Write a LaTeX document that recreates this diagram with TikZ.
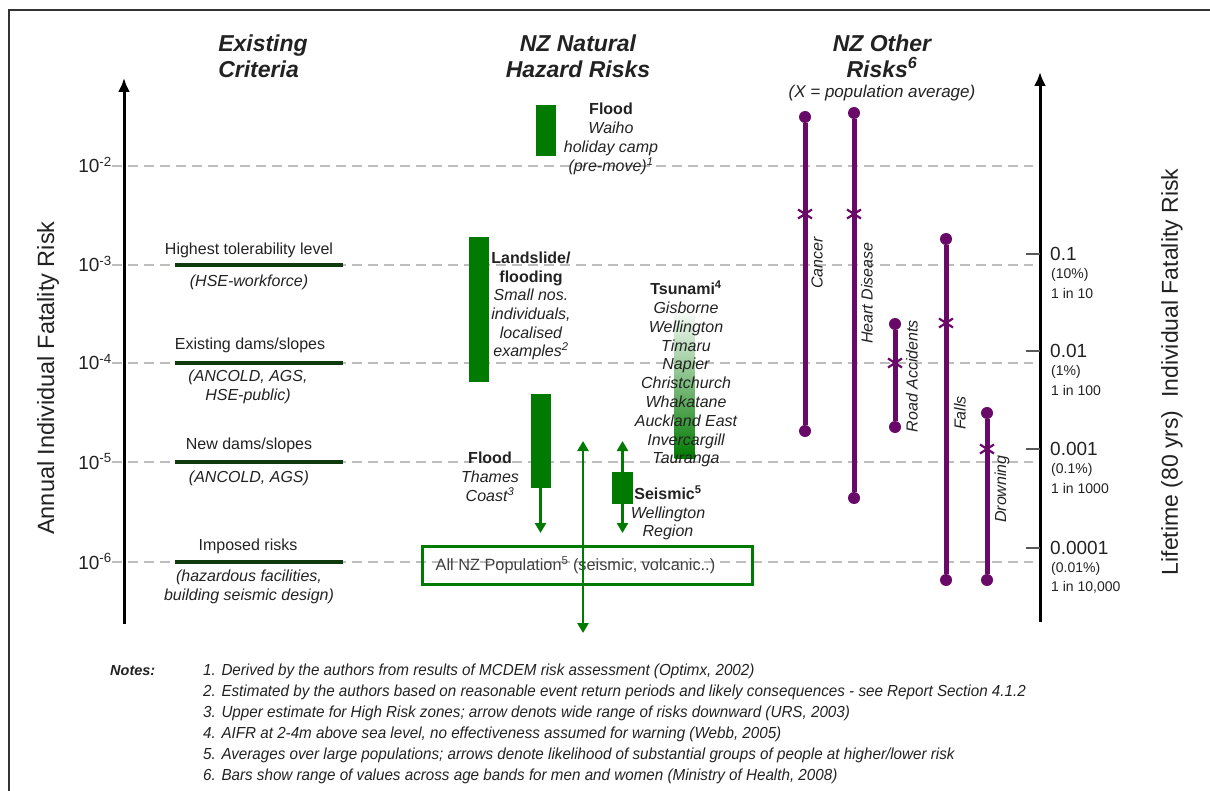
\documentclass[tikz,border=0pt]{standalone}
\usepackage{fontspec}
\setmainfont{Liberation Sans}
\newfontfamily\notefont[FakeStretch=0.95]{Liberation Sans}
\usetikzlibrary{positioning,arrows.meta,calc}
\definecolor{cgreen}{HTML}{007A00}
\definecolor{cdark}{HTML}{0E3A0E}
\definecolor{cpurple}{HTML}{690A69}
\definecolor{cgrid}{HTML}{BDBDBD}
\definecolor{ctext}{HTML}{222222}
\newcommand{\fsz}[2]{\fontsize{#1}{#2}\selectfont}

\begin{document}
\begin{tikzpicture}[x=1pt, y=-1pt,
  every node/.style={text=ctext, inner sep=0pt, align=center},
  heading/.style={font=\fsz{23}{26}\bfseries\itshape},
  levelline/.style={draw=cgrid, line width=2.5pt, dash pattern=on 10pt off 6pt},
  mainaxis/.style={line width=3pt, -{Latex[length=14pt,width=12pt]}},
  ticklab/.style={font=\fsz{19}{22}, anchor=base east},
  crit/.style={font=\fsz{16}{18}},
  critsub/.style={font=\fsz{16}{18.5}\itshape},
  critbar/.style={draw=cdark, line width=4pt},
  gbar/.style={fill=cgreen, minimum width=20pt},
  glabel/.style={font=\fsz{16}{18.8}\itshape},
  garrow/.style={draw=cgreen, line width=2.5pt, -{Triangle[length=10pt,width=11pt]}},
  garrows/.style={draw=cgreen, line width=2.5pt, {Triangle[length=10pt,width=11pt]}-{Triangle[length=10pt,width=11pt]}},
  pbar/.style={draw=cpurple, line width=5pt},
  pcross/.style={draw=cpurple, line width=2.2pt},
  pdot/.style={circle, fill=cpurple, minimum size=12pt},
  plabel/.style={font=\fsz{16}{18}\itshape, rotate=90},
  rticklab/.style={font=\fsz{19}{22}, anchor=west},
  rsub/.style={font=\fsz{14}{16}, anchor=west},
  note/.style={font=\notefont\fsz{16}{18}\itshape, anchor=west}]

\useasboundingbox (0,0) rectangle (1210,791);
% frame
\draw[draw=black!80, line width=2.5pt] (9,791) -- (9,10) -- (1210,10);

% risk levels
\foreach \e/\y in {2/166,3/265,4/363,5/462,6/562}{
  \draw[levelline] (112,\y) -- (1033,\y);
  \node[ticklab] (t\e) at (112,\y+7) {10\textsuperscript{-\e}};
}

% axes
\coordinate (lbot) at (124,624);
\coordinate (ltop) at (124,78);
\draw[mainaxis] (lbot) -- (ltop);
\coordinate (rbot) at (1040,622);
\coordinate (rtop) at (1040,72);
\draw[mainaxis] (rbot) -- (rtop);
\node[font=\fsz{23.5}{26}, rotate=90] (ylab) at (48,378) {Annual Individual Fatality Risk};
\node[font=\fsz{23}{26}, rotate=90] (rlab) at (1172,372) {Lifetime (80 yrs)\ \ Individual Fatality Risk};

% lifetime ticks
\foreach \v/\p/\o/\y [count=\i] in {0.1/10\%/10/254, 0.01/1\%/100/351, 0.001/0.1\%/1000/449, 0.0001/0.01\%/{10,000}/548}{
  \draw[draw=black!65, line width=2.5pt] (1026,\y) -- (1040,\y);
  \node[rticklab] (r\i) at (1050,\y) {\v};
  \node[rsub] (rp\i) at (1051,\y+21) {(\p)};
  \node[rsub] (ro\i) at (1051,\y+39) {1 in \o};
}

% headings
\node[heading, align=left] (hexist) at (263,56) {Existing\\Criteria};
\node[heading] (hnat) at (578,56) {NZ Natural\\Hazard Risks};
\node[heading] (hother) at (882,56) {NZ Other\\Risks\textsuperscript{6}};
\node[font=\fsz{17}{20}\itshape] (xavg) at (882,93) {(X = population average)};

% existing criteria
\draw[critbar] (175,265) -- (343,265);
\node[crit] (hi) at (249,250) {Highest tolerability level};
\node[critsub] (hisub) at (249,282) {(HSE-workforce)};
\draw[critbar] (175,363) -- (343,363);
\node[crit] (ex) at (250,345) {Existing dams/slopes};
\node[critsub] (exsub) at (248,387) {(ANCOLD, AGS,\\HSE-public)};
\draw[critbar] (175,462) -- (343,462);
\node[crit] (nw) at (249,445) {New dams/slopes};
\node[critsub] (nwsub) at (249,478) {(ANCOLD, AGS)};
\draw[critbar] (175,562) -- (343,562);
\node[crit] (im) at (248,546) {Imposed risks};
\node[critsub] (imsub) at (249,587) {(hazardous facilities,\\building seismic design)};

% natural hazard bars
\node[gbar, minimum height=51pt] (waiho) at (545.5,130.5) {};
\node[gbar, minimum height=145pt] (slide) at (479,309.5) {};
\node[gbar, minimum height=94pt] (thames) at (540.5,441) {};
\node[gbar, minimum height=145pt, top color=cgreen!4, middle color=cgreen!70, bottom color=cgreen] (tsun) at (684.5,385.5) {};
\node[gbar, minimum width=21pt, minimum height=32pt] (seis) at (622.5,488) {};

\coordinate (thamesend) at (540.5,533);
\draw[garrow] (thames.south) -- (thamesend);
\coordinate (seisup) at (622.5,441);
\coordinate (seisdn) at (622.5,533);
\draw[garrow] (seis.north) -- (seisup);
\draw[garrow] (seis.south) -- (seisdn);

\node[draw=cgreen, line width=3pt, minimum width=330pt, minimum height=38pt] (allnz) at (587,565) {};
\node[anchor=west, font=\fsz{16.3}{18}, text=black!75] (allnztxt) at ([xshift=15pt]allnz.west) {All NZ Population\textsuperscript{5} (seismic, volcanic..)};
\coordinate (popup) at (583,441);
\coordinate (popdn) at (583,633);
\draw[garrows] (popdn) -- (popup);

\node[glabel, font=\fsz{16}{19}\itshape] (waiholab) at (611,139) {\textbf{\textup{Flood}}\\Waiho\\holiday camp\\(pre-move)\textsuperscript{1}};
\node[glabel, font=\fsz{16}{18.6}\itshape] (slidelab) at (531,306) {\textbf{\textup{Landslide/}}\\\textbf{\textup{flooding}}\\Small nos.\\individuals,\\localised\\examples\textsuperscript{2}};
\node[glabel, font=\fsz{16}{19}\itshape] (thameslab) at (490,477) {\textbf{\textup{Flood}}\\Thames\\Coast\textsuperscript{3}};
\node[glabel] (tsunlab) at (686,374) {\textbf{\textup{Tsunami\textsuperscript{4}}}\\Gisborne\\Wellington\\Timaru\\Napier\\Christchurch\\Whakatane\\Auckland East\\Invercargill\\Tauranga};
\node[glabel, font=\fsz{16}{18.5}\itshape] (seislab) at (668,513) {\textbf{\textup{Seismic\textsuperscript{5}}}\\Wellington\\Region};

% other risks
\foreach \n/\x/\t/\b/\m in {cancer/805/117/431/214, heart/854/113/498/214, road/895/324/427/363, falls/946/239/580/323, drown/987/413/580/449}{
  \node[pdot] (\n-t) at (\x,\t) {};
  \node[pdot] (\n-b) at (\x,\b) {};
  \draw[pbar] (\n-t) -- (\n-b);
  \draw[pcross] (\x-7,\m-4.5) -- (\x+7,\m+4.5) (\x-7,\m+4.5) -- (\x+7,\m-4.5);
}
\node[plabel] (cancerlab) at (817,263) {Cancer};
\node[plabel] (heartlab) at (867,293) {Heart Disease};
\node[plabel] (roadlab) at (912,376) {Road Accidents};
\node[plabel] (fallslab) at (960,413) {Falls};
\node[plabel] (drownlab) at (1002,489) {Drowning};

% notes
\node[anchor=west, font=\fsz{14.5}{17}\bfseries\itshape] (notes) at (110,671) {Notes:};
\foreach \t [count=\i] in {{1. Derived by the authors from results of MCDEM risk assessment (Optimx, 2002)},
  {2. Estimated by the authors based on reasonable event return periods and likely consequences - see Report Section 4.1.2},
  {3. Upper estimate for High Risk zones; arrow denots wide range of risks downward (URS, 2003)},
  {4. AIFR at 2-4m above sea level, no effectiveness assumed for warning (Webb, 2005)},
  {5. Averages over large populations; arrows denote likelihood of substantial groups of people at higher/lower risk},
  {6. Bars show range of values across age bands for men and women (Ministry of Health, 2008)}}{
  \node[note] (n\i) at (203,671+21*\i-21) {\t};
}
\end{tikzpicture}
\end{document}
